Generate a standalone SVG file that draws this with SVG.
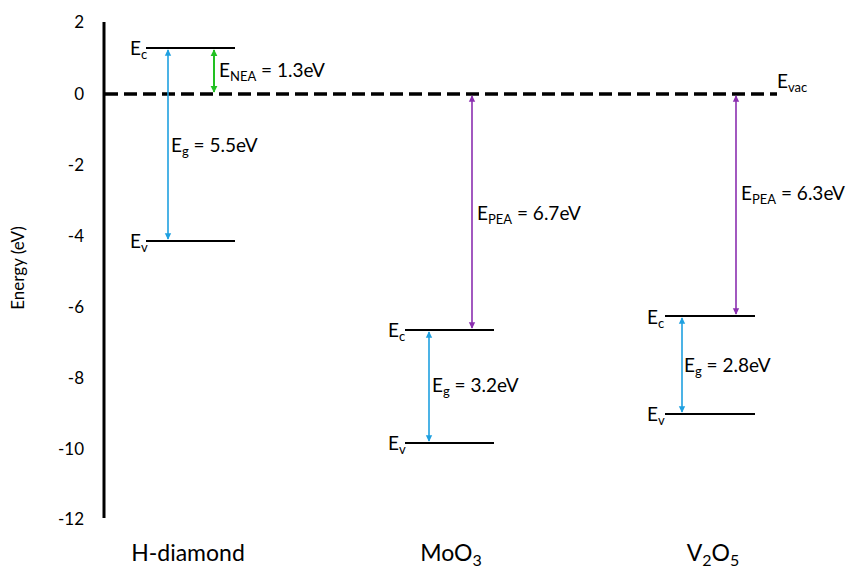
<svg xmlns="http://www.w3.org/2000/svg" width="850" height="568" viewBox="0 0 850 568">
<defs>
<marker id="ab" viewBox="0 0 10 10" refX="9" refY="5" markerWidth="4" markerHeight="5" orient="auto-start-reverse" markerUnits="strokeWidth"><path d="M0,0 L10,5 L0,10 z" fill="#1fa0e0"/></marker>
<marker id="ag" viewBox="0 0 10 10" refX="9" refY="5" markerWidth="3.5" markerHeight="4" orient="auto-start-reverse" markerUnits="strokeWidth"><path d="M0,0 L10,5 L0,10 z" fill="#22c022"/></marker>
<marker id="ap" viewBox="0 0 10 10" refX="9" refY="5" markerWidth="4" markerHeight="5" orient="auto-start-reverse" markerUnits="strokeWidth"><path d="M0,0 L10,5 L0,10 z" fill="#8b2fb0"/></marker>
</defs>
<style>
text{font-family:Lato,"Open Sans","Liberation Sans",sans-serif;fill:#000}
.t{font-size:17px}
.l{font-size:19px}
.s{font-size:13px}
.c{font-size:23px;text-anchor:middle}
.cs{font-size:16px}
.lvl{stroke:#000;stroke-width:2}
.b{stroke:#1fa0e0;stroke-width:1.6;fill:none;marker-start:url(#ab);marker-end:url(#ab)}
.g{stroke:#22c022;stroke-width:2;fill:none;marker-start:url(#ag);marker-end:url(#ag)}
.p{stroke:#8b2fb0;stroke-width:1.6;fill:none;marker-start:url(#ap);marker-end:url(#ap)}
</style>
<rect width="850" height="568" fill="#fff"/>
<g id="axis">
<line x1="104" y1="22" x2="104" y2="518" stroke="#000" stroke-width="3"/>
<g class="t" text-anchor="end">
<text x="84" y="28">2</text>
<text x="84" y="100">0</text>
<text x="84" y="171">-2</text>
<text x="84" y="242">-4</text>
<text x="84" y="313">-6</text>
<text x="84" y="384">-8</text>
<text x="84" y="455">-10</text>
<text x="84" y="525">-12</text>
</g>
<text class="t" transform="translate(24,268) rotate(-90)" text-anchor="middle">Energy (eV)</text>
</g>
<g id="vacuum">
<line x1="105" y1="94" x2="777" y2="94" stroke="#000" stroke-width="3.5" stroke-dasharray="13,6"/>
<text class="l" x="777" y="88">E<tspan class="s" dy="4">vac</tspan></text>
</g>
<g id="h-diamond">
<line class="lvl" x1="146" y1="48" x2="235" y2="48"/>
<line class="lvl" x1="146" y1="241" x2="235" y2="241"/>
<text class="l" x="130" y="55">E<tspan class="s" dy="4">c</tspan></text>
<text class="l" x="130" y="248">E<tspan class="s" dy="4">v</tspan></text>
<text class="c" x="188" y="561">H-diamond</text>
</g>
<g id="moo3">
<line class="lvl" x1="405" y1="330" x2="494" y2="330"/>
<line class="lvl" x1="405" y1="443" x2="494" y2="443"/>
<text class="l" x="388" y="337">E<tspan class="s" dy="4">c</tspan></text>
<text class="l" x="388" y="450">E<tspan class="s" dy="4">v</tspan></text>
<text class="c" x="451" y="561">MoO<tspan class="cs" dy="5">3</tspan></text>
</g>
<g id="v2o5">
<line class="lvl" x1="665" y1="316" x2="755" y2="316"/>
<line class="lvl" x1="665" y1="414" x2="755" y2="414"/>
<text class="l" x="647" y="324">E<tspan class="s" dy="4">c</tspan></text>
<text class="l" x="647" y="421">E<tspan class="s" dy="4">v</tspan></text>
<text class="c" x="713" y="561">V<tspan class="cs" dy="5">2</tspan><tspan dy="-5">O</tspan><tspan class="cs" dy="5">5</tspan></text>
</g>
<g id="connectors">
<line class="b" x1="168" y1="50" x2="168" y2="239"/>
<line class="g" x1="214" y1="50" x2="214" y2="92"/>
<line class="b" x1="429" y1="332" x2="429" y2="441"/>
<line class="p" x1="472" y1="96" x2="472" y2="328"/>
<line class="b" x1="682" y1="318" x2="682" y2="412"/>
<line class="p" x1="736" y1="96" x2="736" y2="314"/>
<text class="l" x="219" y="77">E<tspan class="s" dy="4">NEA</tspan><tspan dy="-4"> = 1.3eV</tspan></text>
<text class="l" x="171" y="152">E<tspan class="s" dy="4">g</tspan><tspan dy="-4"> = 5.5eV</tspan></text>
<text class="l" x="477" y="220">E<tspan class="s" dy="4">PEA</tspan><tspan dy="-4"> = 6.7eV</tspan></text>
<text class="l" x="432" y="392">E<tspan class="s" dy="4">g</tspan><tspan dy="-4"> = 3.2eV</tspan></text>
<text class="l" x="741" y="200">E<tspan class="s" dy="4">PEA</tspan><tspan dy="-4"> = 6.3eV</tspan></text>
<text class="l" x="684" y="372">E<tspan class="s" dy="4">g</tspan><tspan dy="-4"> = 2.8eV</tspan></text>
</g>
</svg>
